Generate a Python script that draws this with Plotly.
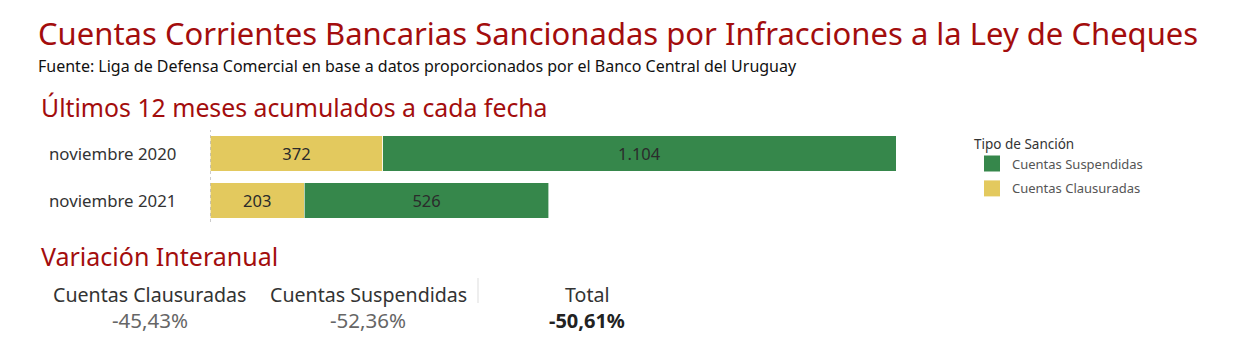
import plotly.graph_objects as go

# Sanctioned current accounts, trailing 12 months at each date
periodos = ["noviembre 2020", "noviembre 2021"]
clausuradas = [372, 203]
suspendidas = [1104, 526]

serie_nombres = ["Cuentas Clausuradas", "Cuentas Suspendidas"]
colores = {"Cuentas Clausuradas": "#e3c95e", "Cuentas Suspendidas": "#36874b"}

ROJO = "#a30d0d"
FUENTE = "Noto Sans"
W, H = 1240, 341


def py(px):
    """Pixel row (from top) to paper coordinate."""
    return (H - px) / H


def px_x(px):
    return px / W


def variacion(a, b):
    return (b - a) / a * 100


def fmt_pct(v):
    return f"{v:.2f}".replace(".", ",") + "%"


totales = [c + s for c, s in zip(clausuradas, suspendidas)]
var_claus = variacion(clausuradas[0], clausuradas[1])
var_susp = variacion(suspendidas[0], suspendidas[1])
var_total = variacion(totales[0], totales[1])

fig = go.Figure()
for nombre, valores in zip(serie_nombres, [clausuradas, suspendidas]):
    fig.add_trace(go.Bar(
        y=periodos, x=valores, orientation="h", name=nombre,
        marker=dict(color=colores[nombre], line=dict(color="white", width=0.6)),
        text=[f"{v:,}".replace(",", ".") for v in valores],
        textposition="inside", insidetextanchor="middle",
        textfont=dict(family=FUENTE, size=16.5, color="#2b2b2b"),
        hoverinfo="skip", showlegend=False,
    ))

# legend entries with large square swatches (Suspendidas listed first)
for nombre in reversed(serie_nombres):
    fig.add_trace(go.Scatter(
        x=[None], y=[None], mode="markers", name=nombre,
        marker=dict(symbol="square", size=16, color=colores[nombre]),
        legendgroup=nombre, showlegend=True, hoverinfo="skip",
    ))

fig.update_layout(
    width=W, height=H,
    margin=dict(l=0, r=0, t=0, b=0),
    paper_bgcolor="white", plot_bgcolor="white",
    barmode="stack", bargap=0.255,
    separators=",.",
    font=dict(family=FUENTE, color="#333"),
    xaxis=dict(domain=[px_x(210), px_x(896)], range=[0, max(totales)],
               visible=False, fixedrange=True),
    yaxis=dict(domain=[py(224), py(130)], range=[1.5, -0.5],
               type="category", visible=False, fixedrange=True),
    legend=dict(
        title=dict(text="Tipo de Sanción", font=dict(size=13.5, color="#333")),
        traceorder="grouped",
        x=px_x(972), xanchor="left", y=py(131), yanchor="top",
        font=dict(size=13, color="#555"),
        itemwidth=30, tracegroupgap=5,
        bgcolor="rgba(0,0,0,0)",
    ),
    showlegend=True,
)

# dotted baseline at zero
fig.add_shape(type="line", xref="x", yref="paper", x0=0, x1=0,
              y0=py(222), y1=py(130),
              line=dict(color="#999", width=1, dash="dot"))

# category labels
for p in periodos:
    fig.add_annotation(text=p, x=px_x(47), xref="paper", xanchor="left",
                       y=p, yref="y", yanchor="middle", showarrow=False,
                       font=dict(size=16.8, color="#333"))

textos = [
    ("Cuentas Corrientes Bancarias Sancionadas por Infracciones a la Ley de Cheques",
     36, 33, 31, ROJO, "left"),
    ("Fuente: Liga de Defensa Comercial en base a datos proporcionados por el Banco Central del Uruguay",
     36, 66, 16, "#111", "left"),
    ("Últimos 12 meses acumulados a cada fecha", 39, 107, 24.8, ROJO, "left"),
    ("Variación Interanual", 39, 256, 25, ROJO, "left"),
    ("Cuentas Clausuradas", 149.5, 294, 19.6, "#333", "center"),
    ("Cuentas Suspendidas", 368, 294, 19.6, "#333", "center"),
    ("Total", 587, 294, 19.6, "#333", "center"),
    (fmt_pct(var_claus), 149.5, 320, 20.5, "#666", "center"),
    (fmt_pct(var_susp), 368, 320, 20.5, "#666", "center"),
    (f"<b>{fmt_pct(var_total)}</b>", 587, 320, 20, "#222", "center"),
]
for txt, x, y, size, color, anchor in textos:
    fig.add_annotation(text=txt, x=px_x(x), y=py(y), xref="paper", yref="paper",
                       xanchor=anchor, yanchor="middle", showarrow=False,
                       font=dict(size=size, color=color))

# separator between KPI blocks
fig.add_shape(type="line", xref="paper", yref="paper",
              x0=px_x(478), x1=px_x(478), y0=py(303), y1=py(278),
              line=dict(color="#ddd", width=1))

fig.write_html("out.html")
